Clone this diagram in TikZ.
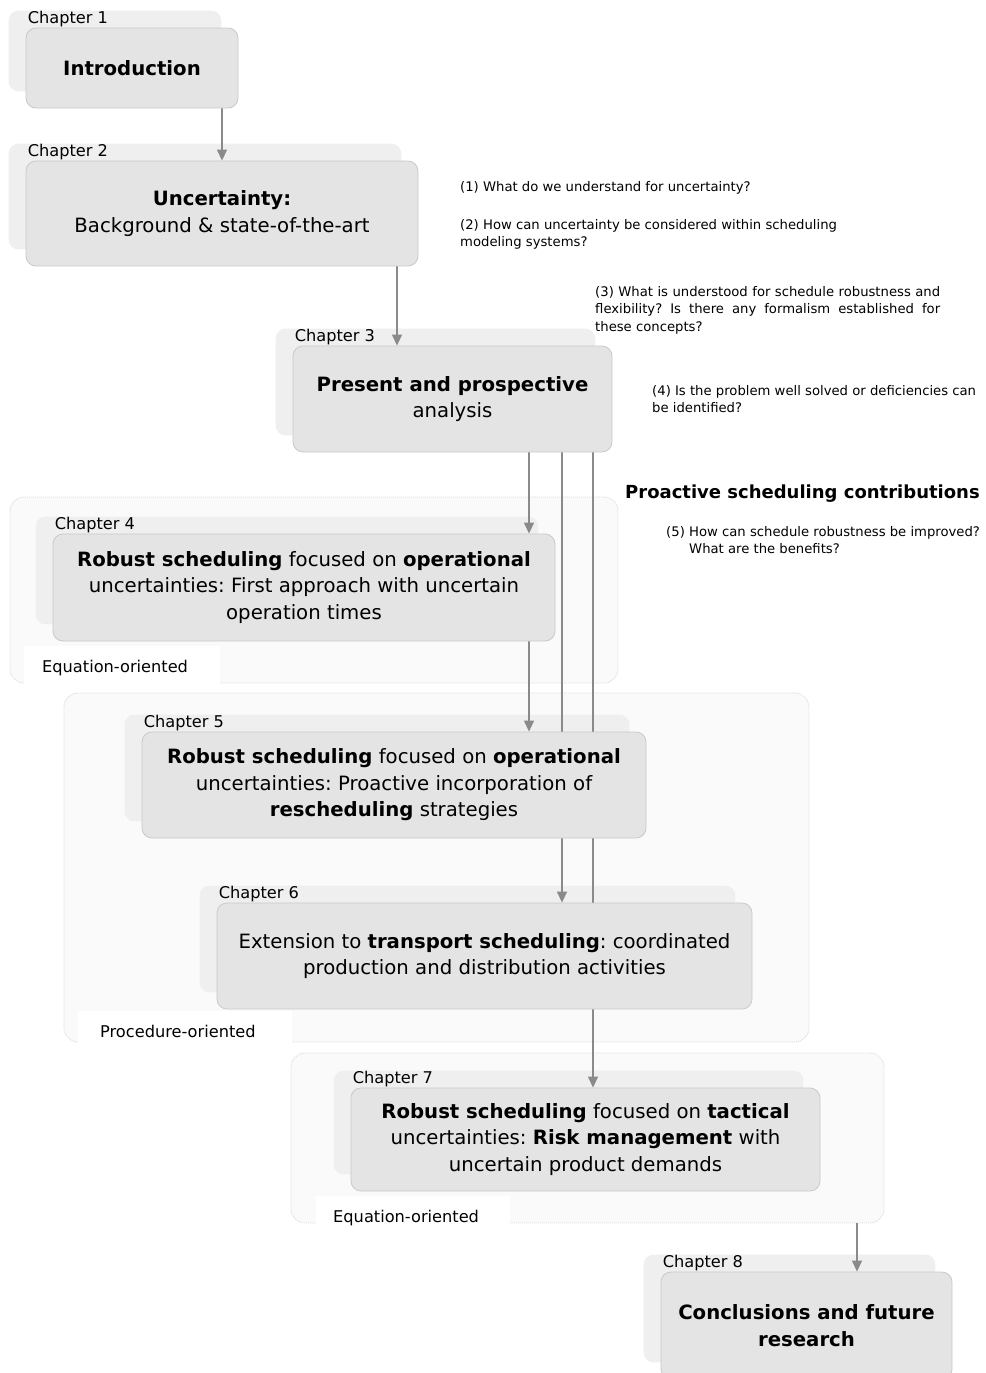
\documentclass[tikz,border=0pt]{standalone}
\usepackage{fontspec}
\setmainfont{DejaVu Sans}
\usetikzlibrary{arrows.meta,calc}
\pgfdeclarelayer{groups}
\pgfdeclarelayer{shadows}
\pgfdeclarelayer{links}
\pgfsetlayers{groups,shadows,links,main}
\frenchspacing

\definecolor{boxfill}{HTML}{E4E4E4}
\definecolor{boxline}{HTML}{C9C9C9}
\definecolor{shadowfill}{HTML}{EFEFEF}
\definecolor{groupfill}{HTML}{FAFAFA}
\definecolor{groupline}{HTML}{D8D8D8}
\definecolor{linkcol}{HTML}{8A8A8A}

\tikzset{
  chapbox/.style={draw=boxline, fill=boxfill, line width=0.8pt, rounded corners=10pt,
    align=center, inner sep=0pt, font=\fontsize{19.7}{26.5}\selectfont},
  groupbox/.style={draw=groupline, fill=groupfill, line width=0.8pt,
    dash pattern=on 1pt off 1pt, rounded corners=14pt, inner sep=0pt},
  chaplabel/.style={anchor=base west, inner sep=0pt, font=\fontsize{16.2}{19}\selectfont},
  grouplabel/.style={fill=white, inner sep=0pt, anchor=north west},
  question/.style={anchor=north west, inner sep=0pt, align=left,
    font=\fontsize{13.2}{17.7}\selectfont},
  link/.style={draw=linkcol, line width=1.2pt,
    -{Triangle[width=10pt,length=11pt]}},
}

\begin{document}
\begin{tikzpicture}[x=1pt,y=-1pt]
\clip (0,0) rectangle (985,1373);

% chapter boxes
\node[chapbox, minimum width=212pt, minimum height=80pt]  (c1) at (132,68)     {\textbf{Introduction}};
\node[chapbox, minimum width=392pt, minimum height=105pt] (c2) at (222,213.5)  {\textbf{Uncertainty:}\\Background \& state-of-the-art};
\node[chapbox, minimum width=319pt, minimum height=106pt] (c3) at (452.5,399)  {\textbf{Present and prospective}\\analysis};
\node[chapbox, minimum width=502pt, minimum height=107pt] (c4) at (304,587.5)  {\textbf{Robust scheduling} focused on \textbf{operational}\\uncertainties: First approach with uncertain\\operation times};
\node[chapbox, minimum width=504pt, minimum height=106pt] (c5) at (394,785)    {\textbf{Robust scheduling} focused on \textbf{operational}\\uncertainties: Proactive incorporation of\\\textbf{rescheduling} strategies};
\node[chapbox, minimum width=535pt, minimum height=106pt] (c6) at (484.5,956)  {Extension to \textbf{transport scheduling}: coordinated\\production and distribution activities};
\node[chapbox, minimum width=469pt, minimum height=103pt] (c7) at (585.5,1139.5) {\textbf{Robust scheduling} focused on \textbf{tactical}\\uncertainties: \textbf{Risk management} with\\uncertain product demands};
\node[chapbox, minimum width=291pt, minimum height=107pt] (c8) at (806.5,1325.5) {\textbf{Conclusions and future}\\\textbf{research}};

% chapter numbers
\foreach \i in {1,...,8}{
  \node[chaplabel] (lab\i) at ([shift={(2,-4)}]c\i.north west) {Chapter \i};
}

% shadow plates behind the chapter boxes
\begin{pgfonlayer}{shadows}
\foreach \i in {1,...,8}{
  \fill[shadowfill, rounded corners=10pt]
    ([shift={(-17,-17)}]c\i.south west) rectangle ([shift={(-17,-17)}]c\i.north east);
}
\end{pgfonlayer}

% modelling approach groups
\begin{pgfonlayer}{groups}
\node[groupbox, minimum width=608pt, minimum height=186pt] (g1) at (314,590)    {};
\node[groupbox, minimum width=745pt, minimum height=349pt] (g2) at (436.5,867.5) {};
\node[groupbox, minimum width=593pt, minimum height=170pt] (g3) at (587.5,1138) {};
\node[grouplabel, minimum width=196pt, minimum height=46pt] (w1) at (24,646)  {};
\node[grouplabel, minimum width=214pt, minimum height=36pt] (w2) at (78,1011) {};
\node[grouplabel, minimum width=194pt, minimum height=36pt] (w3) at (316,1196) {};
\node[chaplabel] (t1) at (42,672)   {Equation-oriented};
\node[chaplabel] (t2) at (100,1037) {Procedure-oriented};
\node[chaplabel] (t3) at (333,1222) {Equation-oriented};
\end{pgfonlayer}

% connectors
\coordinate (xa) at (222,0);
\coordinate (xb) at (397,0);
\coordinate (xc) at (529,0);
\coordinate (xd) at (562,0);
\coordinate (xe) at (593,0);
\coordinate (xf) at (857,0);
\begin{pgfonlayer}{links}
\draw[link] (c1.south -| xa) -- (c2.north -| xa);
\draw[link] (c2.south -| xb) -- (c3.north -| xb);
\draw[link] (c3.south -| xc) -- (c4.north -| xc);
\draw[link] (c4.south -| xc) -- (c5.north -| xc);
\draw[link] (c3.south -| xd) -- (c6.north -| xd);
\draw[link] (c3.south -| xe) -- (c7.north -| xe);
\draw[link] (g3.south -| xf) -- (c8.north -| xf);
\end{pgfonlayer}

% research questions
\node[question] (q1) at (460,181) {(1) What do we understand for uncertainty?};
\node[question] (q2) at (460,219) {(2) How can uncertainty be considered within scheduling\\modeling systems?};
\node[question] (q3) at (595,286) {\makebox[345pt][s]{(3) What is understood for schedule robustness and}\\\makebox[345pt][s]{flexibility? Is there any formalism established for}\\these concepts?};
\node[question] (q4) at (652,385) {(4) Is the problem well solved or deficiencies can\\be identified?};
\node[anchor=base west, inner sep=0pt, font=\fontsize{18}{22}\selectfont\bfseries] (pc) at (625,498.5) {Proactive scheduling contributions};
\node[question] (q5) at (666,526) {(5) How can schedule robustness be improved?\\\hspace*{23pt}What are the benefits?};

\end{tikzpicture}
\end{document}
